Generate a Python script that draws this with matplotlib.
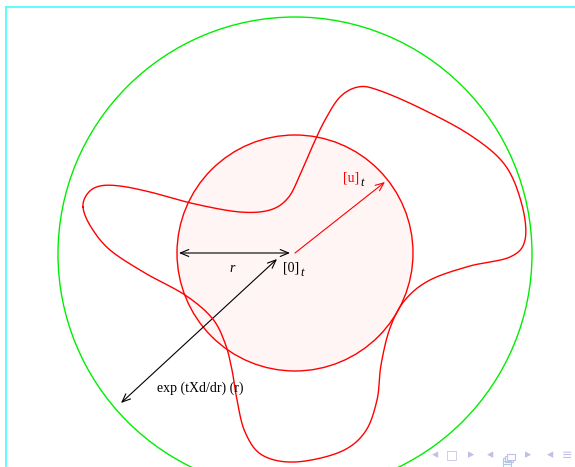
import numpy as np
import matplotlib
matplotlib.use('Agg')
import matplotlib.pyplot as plt
from matplotlib.patches import Circle, FancyArrowPatch, Rectangle

# pixel-space geometry (y grows downward)
outer_center = (295, 254)
outer_radius = 237
inner_center = (295, 253)
inner_radius = 118

# closed red curve, traced clockwise starting at the left lobe
curve_x = [83, 88, 100, 120, 150, 195, 240, 270, 288, 300, 313, 325, 340, 358, 378, 420, 470,
           505, 522, 525, 510, 470, 430, 405, 390, 381, 377, 365, 340, 295, 262, 245, 237,
           232, 225, 212, 185, 145, 110, 91]
curve_y = [207, 193, 186, 186, 192, 204, 212, 210, 198, 175, 145, 120, 97, 87, 90, 108, 135,
           165, 205, 240, 257, 266, 280, 300, 328, 365, 400, 432, 452, 462, 455, 432, 400,
           370, 343, 318, 295, 273, 250, 227]

labels = {
    'r': (232, 268),
    'zero': (283, 268),
    'u': (343, 178),
    'exp': (157, 388),
}


def catmull_rom_closed(xs, ys, n=20):
    pts = np.column_stack([xs, ys]).astype(float)
    m = len(pts)
    out = []
    for i in range(m):
        p0, p1, p2, p3 = pts[(i - 1) % m], pts[i], pts[(i + 1) % m], pts[(i + 2) % m]
        t = np.linspace(0, 1, n, endpoint=False)[:, None]
        seg = 0.5 * ((2 * p1) + (-p0 + p2) * t + (2 * p0 - 5 * p1 + 4 * p2 - p3) * t ** 2
                     + (-p0 + 3 * p1 - 3 * p2 + p3) * t ** 3)
        out.append(seg)
    out = np.vstack(out)
    return np.vstack([out, out[:1]])


fig = plt.figure(figsize=(5.75, 4.67), dpi=100)
ax = fig.add_axes([0, 0, 1, 1])
ax.set_xlim(0, 575)
ax.set_ylim(467, 0)
ax.axis('off')

# beamer frame lines
ax.plot([6, 575], [7, 7], color='#40ffff', lw=1.2)
ax.plot([6, 6], [7, 466], color='#40ffff', lw=1.2)

ax.add_patch(Circle(outer_center, outer_radius, fill=False, ec='#00ee00', lw=1.0))
ax.add_patch(Circle(inner_center, inner_radius, fc='#fff5f5', ec='#ff0000', lw=1.0))

c = catmull_rom_closed(curve_x, curve_y)
ax.plot(c[:, 0], c[:, 1], color='#ff0000', lw=1.0)

arrow_kw = dict(arrowstyle='<->,head_length=6,head_width=2.5', lw=0.8, color='black',
                shrinkA=0, shrinkB=0)
ax.add_patch(FancyArrowPatch((179, 253), (290, 253), **arrow_kw))
ax.add_patch(FancyArrowPatch((121, 403), (277, 259), **arrow_kw))
ax.add_patch(FancyArrowPatch((295, 253), (385, 182),
                             arrowstyle='->,head_length=6,head_width=2.5', lw=0.8,
                             color='#ff0000', shrinkA=0, shrinkB=0))

serif = ['Liberation Serif', 'DejaVu Serif']
ax.text(*labels['r'], 'r', family=serif, style='italic', fontsize=10, ha='center', va='center')
ax.text(*labels['zero'], r'[0]', family=serif, fontsize=10, ha='left', va='center')
ax.text(labels['zero'][0] + 17, labels['zero'][1] + 5, 't', family=serif, style='italic',
        fontsize=9, ha='left', va='center')
ax.text(*labels['u'], '[u]', family=serif, fontsize=10, color='#ff0000', ha='left', va='center')
ax.text(labels['u'][0] + 17, labels['u'][1] + 5, 't', family=serif, style='italic',
        fontsize=9, ha='left', va='center')
ax.text(*labels['exp'], 'exp (tXd/dr) (r)', family=serif, fontsize=10, ha='left', va='center')

# navigation symbols
nav = '#c0c0e6'
sym = [(435, '◂'), (452, '□'), (471, '▸'), (490, '◂'), (528, '▸'), (550, '◂'), (567, '≡')]
for x, s in sym:
    ax.text(x, 455, s, color=nav, fontsize=9, ha='center', va='center', family=['DejaVu Sans'])
# stacked-frames icon (no font has it) and the small cyan marker below
for dx in (0, 2, 4):
    ax.add_patch(Rectangle((503 + dx, 458 - dx), 8, 6, fc='white', ec=nav, lw=0.8))
ax.add_patch(Rectangle((503, 461), 8, 6, fill=False, ec='#40ffff', lw=0.8))

fig.savefig('out.png', dpi=100)
